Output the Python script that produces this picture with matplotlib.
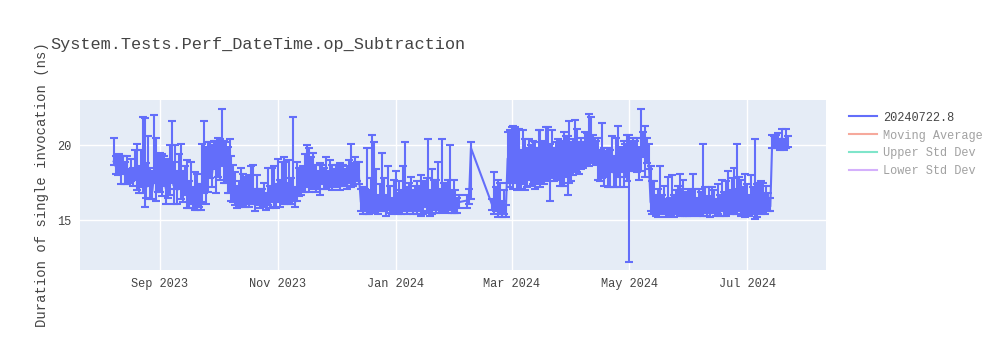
import pandas as pd
import matplotlib
matplotlib.use("Agg")
import matplotlib.pyplot as plt
import matplotlib.dates as mdates
from matplotlib.lines import Line2D

# one benchmark run per day: (mean, +err, -err) in ns
aug23 = [(18.9, 1.6, 0.2), (18.6, 0.7, 0.5), (18.3, 0.9, 0.3), (18.8, 0.6, 0.6),
         (18.2, 1.1, 0.8), (18.5, 0.8, 0.4), (17.9, 1.0, 0.5), (18.4, 0.9, 1.0),
         (17.8, 0.6, 0.3), (18.1, 1.0, 0.5), (17.7, 0.8, 0.4), (18.4, 1.3, 0.7),
         (17.9, 2.2, 0.9), (17.4, 1.2, 0.6), (18.2, 1.5, 1.0), (17.6, 4.3, 0.8),
         (18.0, 3.8, 2.1), (17.2, 1.6, 0.7), (18.5, 2.1, 1.2), (17.5, 1.0, 1.1),
         (16.9, 1.4, 0.5), (18.1, 3.9, 0.6), (17.3, 3.2, 1.0), (17.8, 1.6, 0.9)]
sep23 = [(18.3, 1.2, 1.4), (17.4, 2.0, 0.8), (17.9, 1.4, 0.6), (17.1, 1.9, 1.0),
         (18.0, 1.1, 1.5), (17.6, 2.4, 0.9), (18.2, 3.4, 0.7), (17.3, 1.6, 1.2),
         (17.9, 2.1, 0.8), (17.0, 1.3, 0.9), (18.4, 1.0, 1.3), (17.5, 2.6, 1.1),
         (16.8, 1.5, 0.6), (17.7, 0.9, 1.0), (17.2, 1.8, 1.4), (16.5, 1.1, 0.7),
         (17.0, 1.9, 0.9), (16.3, 0.9, 0.5), (16.8, 1.4, 1.1), (16.1, 2.0, 0.4),
         (16.6, 0.8, 0.7), (16.2, 1.2, 0.5), (17.8, 2.3, 1.6), (18.9, 2.7, 2.1),
         (16.9, 3.0, 0.8), (18.6, 1.6, 1.7), (19.2, 1.0, 1.4), (18.1, 1.9, 0.9),
         (19.5, 0.8, 1.1), (18.8, 1.5, 2.0)]
oct23 = [(19.4, 1.1, 1.5), (18.6, 1.8, 0.9), (19.8, 2.6, 1.2), (19.1, 1.2, 1.6),
         (18.2, 2.0, 0.7), (19.0, 0.9, 2.2), (17.6, 2.8, 0.8), (16.9, 2.4, 0.6),
         (17.4, 1.3, 1.2), (16.6, 1.6, 0.6), (16.2, 1.1, 0.4), (16.8, 0.8, 0.9),
         (16.4, 2.1, 0.5), (17.2, 0.9, 1.2), (16.5, 1.4, 0.6), (16.9, 1.0, 0.8),
         (16.3, 1.7, 0.4), (17.1, 1.5, 1.0), (16.6, 2.1, 0.5), (16.2, 0.9, 0.6),
         (16.8, 1.2, 0.7), (16.4, 0.7, 0.4), (16.1, 1.0, 0.3), (16.5, 0.6, 0.5),
         (16.3, 1.2, 0.4), (16.0, 0.8, 0.3), (16.6, 1.9, 0.6), (16.2, 1.1, 0.4),
         (16.9, 1.6, 0.7), (16.4, 2.2, 0.5), (16.1, 1.3, 0.3)]
nov23 = [(16.8, 2.3, 0.6), (16.3, 1.4, 0.4), (17.2, 1.7, 1.0), (16.6, 2.6, 0.5),
         (17.0, 1.9, 0.8), (16.4, 1.1, 0.3), (16.9, 2.1, 0.7), (16.5, 1.3, 0.4),
         (16.8, 5.1, 0.5), (16.2, 1.0, 0.3), (17.1, 1.8, 0.8), (17.6, 0.9, 1.0),
         (17.3, 1.2, 0.6), (17.8, 0.8, 0.9), (17.4, 2.0, 0.5), (17.9, 2.1, 0.7),
         (17.5, 2.3, 0.6), (18.0, 1.2, 0.8), (17.6, 1.9, 0.5), (17.8, 0.9, 0.7),
         (17.3, 1.4, 0.4), (17.7, 0.6, 0.6), (17.5, 1.3, 0.8), (17.9, 0.8, 0.5),
         (17.4, 1.1, 0.3), (17.7, 1.5, 0.6), (17.6, 0.7, 0.4), (18.0, 1.0, 0.7),
         (17.5, 1.2, 0.5), (17.8, 0.6, 0.6)]
dec23 = [(17.6, 1.1, 0.4), (17.9, 0.8, 0.6), (17.5, 1.3, 0.5), (18.0, 0.7, 0.7),
         (17.7, 1.0, 0.4), (17.8, 0.6, 0.5), (17.4, 1.2, 0.3), (18.1, 0.9, 0.6),
         (17.7, 2.4, 0.5), (18.0, 0.8, 0.7), (17.8, 1.4, 0.4), (18.2, 0.7, 0.6),
         (17.9, 1.0, 0.5), (16.2, 0.9, 0.6), (15.9, 1.3, 0.5), (16.4, 0.7, 0.8),
         (16.0, 3.8, 0.6), (15.8, 1.2, 0.4), (16.3, 1.5, 0.7), (16.7, 4.0, 1.2),
         (16.1, 4.1, 0.6), (16.5, 1.9, 0.9), (15.9, 0.8, 0.5), (16.3, 1.1, 0.7),
         (16.0, 3.5, 0.4), (16.4, 1.4, 0.8), (15.8, 0.9, 0.5), (16.6, 2.0, 0.9),
         (16.1, 1.2, 0.6), (15.7, 0.8, 0.3), (16.2, 1.5, 0.7)]
jan24 = [(16.5, 1.8, 1.0), (15.9, 0.9, 0.5), (16.3, 1.3, 0.8), (16.0, 1.0, 0.6),
         (16.4, 2.2, 0.7), (16.1, 4.1, 0.5), (15.8, 1.4, 0.4), (16.6, 0.9, 1.0),
         (16.2, 1.7, 0.6), (15.9, 1.1, 0.5), (16.5, 0.8, 0.9), (16.0, 1.6, 0.6),
         (16.3, 1.0, 0.7), (15.7, 2.3, 0.4), (16.2, 1.4, 0.8), (16.6, 0.9, 0.7),
         (16.0, 1.8, 0.5), (16.4, 4.0, 0.8), (15.8, 1.2, 0.5), (16.3, 2.1, 0.9),
         (16.7, 1.0, 1.0), (16.1, 1.6, 0.6), (16.5, 2.4, 0.8), (16.0, 1.1, 0.5),
         (16.8, 3.6, 1.2), (16.2, 1.3, 0.6), (16.6, 0.8, 0.9), (16.0, 1.7, 0.5),
         (16.4, 3.6, 0.7), (15.9, 1.0, 0.4), (16.3, 1.4, 0.8)]
feb24_a = [(16.1, 0.9, 0.6), (15.8, 0.7, 0.3), (16.2, 0.5, 0.4)]
feb24_b = [(16.3, 0.4, 0.5), (16.5, 0.6, 0.4), (19.8, 0.4, 3.4)]
feb24_c = [(16.0, 0.4, 0.3), (15.7, 2.5, 0.3), (16.2, 1.0, 0.6), (15.6, 2.1, 0.4),
           (15.9, 1.6, 0.5), (15.5, 0.8, 0.3), (15.8, 1.2, 0.4), (15.4, 0.6, 0.2),
           (19.1, 1.8, 1.6), (18.4, 2.6, 1.2)]
mar24 = [(19.3, 1.9, 1.8), (18.6, 2.7, 1.5), (19.8, 1.4, 2.3), (18.2, 2.9, 1.2),
         (19.0, 2.1, 1.9), (18.5, 1.2, 1.4), (19.4, 1.6, 2.0), (18.1, 2.3, 1.1),
         (18.8, 1.0, 1.6), (19.5, 0.9, 1.8), (18.3, 1.7, 1.0), (18.9, 1.4, 1.5),
         (18.0, 2.2, 0.9), (18.7, 1.1, 1.3), (19.2, 1.8, 1.7), (18.4, 2.6, 1.2),
         (19.0, 1.3, 1.4), (18.2, 2.0, 0.8), (18.8, 2.4, 1.1), (19.3, 1.9, 1.7),
         (18.5, 1.6, 2.2), (19.1, 1.9, 1.3), (18.6, 1.2, 1.0), (19.4, 0.8, 1.6),
         (18.9, 1.5, 1.2), (18.4, 1.9, 1.1), (19.2, 1.0, 1.9), (18.7, 2.2, 1.4),
         (19.5, 1.1, 1.6), (18.9, 1.7, 2.2), (19.3, 2.3, 1.8)]
apr24 = [(19.2, 1.0, 1.6), (18.9, 1.5, 0.9), (19.4, 2.3, 1.1), (19.0, 2.1, 0.8),
         (19.3, 0.9, 1.2), (19.1, 1.4, 0.7), (19.5, 0.7, 1.0), (19.2, 1.7, 0.6),
         (19.6, 1.2, 0.9), (19.3, 2.8, 0.7), (19.8, 2.1, 1.0), (19.4, 1.3, 0.6),
         (19.7, 0.8, 0.8), (19.2, 1.1, 0.5), (18.6, 1.9, 0.9), (18.3, 1.4, 0.7),
         (18.9, 2.6, 1.1), (18.2, 1.6, 0.9), (18.6, 1.0, 0.7), (18.0, 1.8, 0.8),
         (18.4, 1.3, 1.2), (18.8, 1.8, 0.6), (18.1, 1.2, 0.9), (18.5, 2.0, 1.3),
         (18.7, 2.6, 0.8), (18.3, 1.5, 1.1), (18.9, 1.0, 0.7), (18.4, 1.9, 1.2),
         (18.8, 1.3, 0.9), (18.2, 2.5, 0.6)]
may24 = [(18.6, 2.1, 6.4), (19.2, 1.1, 0.8), (18.9, 1.6, 0.6), (19.5, 0.8, 1.2),
         (19.1, 1.4, 0.9), (18.7, 1.2, 1.0), (19.4, 3.0, 1.1), (19.9, 1.0, 0.7),
         (19.2, 2.1, 1.3), (19.6, 0.9, 0.8), (19.0, 1.1, 0.6), (16.2, 2.4, 0.6),
         (15.8, 1.8, 0.4), (16.4, 1.2, 0.9), (15.9, 0.8, 0.6), (15.6, 1.5, 0.4),
         (16.1, 2.5, 0.7), (15.7, 1.0, 0.3), (16.0, 1.3, 0.6), (15.5, 0.9, 0.3),
         (16.3, 1.6, 0.8), (15.8, 0.7, 0.5), (16.0, 2.0, 0.6), (15.6, 1.1, 0.4),
         (16.2, 0.8, 0.7), (15.9, 1.4, 0.5), (15.7, 2.4, 0.4), (16.1, 1.0, 0.6),
         (15.8, 1.9, 0.5), (16.0, 0.9, 0.7), (15.6, 1.3, 0.3)]
jun24 = [(15.9, 1.2, 0.6), (16.2, 0.8, 0.8), (15.7, 2.4, 0.4), (16.0, 1.1, 0.6),
         (15.8, 0.7, 0.5), (16.1, 1.0, 0.7), (15.6, 1.3, 0.3), (15.9, 4.2, 0.6),
         (16.2, 1.0, 0.7), (15.7, 0.9, 0.4), (16.0, 1.2, 0.5), (15.8, 0.7, 0.6),
         (16.3, 0.9, 0.8), (15.9, 1.1, 0.4), (15.6, 0.8, 0.3), (16.1, 1.3, 0.7),
         (15.8, 0.9, 0.5), (16.2, 1.5, 0.6), (15.7, 1.2, 0.4), (16.0, 1.6, 0.7),
         (16.4, 1.9, 0.9), (15.9, 1.1, 0.5), (16.3, 1.5, 0.8), (16.0, 2.5, 0.6),
         (15.8, 1.3, 0.4), (16.1, 4.0, 0.7), (16.5, 1.4, 0.9), (15.9, 1.8, 0.6),
         (16.2, 1.0, 0.8), (15.7, 2.4, 0.5)]
jul24 = [(16.0, 1.4, 0.6), (15.7, 1.0, 0.4), (16.2, 1.8, 0.8), (15.9, 1.3, 0.5),
         (16.1, 4.3, 1.0), (15.8, 1.6, 0.6), (16.3, 1.2, 0.8), (15.9, 1.7, 0.5),
         (16.1, 1.4, 0.6), (15.8, 0.9, 0.4), (16.2, 1.1, 0.5), (16.0, 0.8, 0.4),
         (15.9, 0.6, 0.3), (20.3, 0.4, 0.5), (20.1, 0.5, 0.3), (20.4, 0.3, 0.6),
         (20.2, 0.6, 0.4), (20.0, 0.4, 0.3), (20.5, 0.6, 0.7), (20.1, 0.3, 0.4),
         (20.3, 0.8, 0.5), (20.2, 0.4, 0.3)]

segments = [("2023-08-08", aug23), ("2023-09-01", sep23), ("2023-10-01", oct23),
            ("2023-11-01", nov23), ("2023-12-01", dec23), ("2024-01-01", jan24),
            ("2024-02-01", feb24_a), ("2024-02-07", feb24_b), ("2024-02-20", feb24_c),
            ("2024-03-01", mar24), ("2024-04-01", apr24), ("2024-05-01", may24),
            ("2024-06-01", jun24), ("2024-07-01", jul24)]

run_name = "20240722.8"
title = "System.Tests.Perf_DateTime.op_Subtraction"
ylabel = "Duration of single invocation (ns)"
hidden_series = [("Moving Average", "#EF553B"), ("Upper Std Dev", "#00CC96"),
                 ("Lower Std Dev", "#AB63FA")]
xticks = ["2023-09-01", "2023-11-01", "2024-01-01", "2024-03-01", "2024-05-01", "2024-07-01"]
yticks = [15, 20]

dates, mean, err_hi, err_lo = [], [], [], []
for start, rows in segments:
    days = pd.date_range(start, periods=len(rows), freq="D")
    for d, (m, hi, lo) in zip(days, rows):
        dates.append(d)
        mean.append(m)
        err_hi.append(hi)
        err_lo.append(lo)

plt.rcParams["font.family"] = ["Liberation Mono", "DejaVu Sans Mono"]
txt = "#444444"

fig = plt.figure(figsize=(10, 3.5), dpi=100)
ax = fig.add_axes([0.08, 1 - 270 / 350, 0.746, 170 / 350])
ax.set_facecolor("#E5ECF6")
for s in ax.spines.values():
    s.set_visible(False)
ax.grid(True, color="white", linewidth=1)
ax.set_axisbelow(True)

blue = "#636EFA"
ax.errorbar(dates, mean, yerr=[err_lo, err_hi], color=blue, linewidth=1.5,
            elinewidth=1.5, capsize=3.0, capthick=1.5, zorder=3)

ax.set_xlim(pd.Timestamp("2023-07-21 14:00"), pd.Timestamp("2024-08-10 20:00"))
ax.set_ylim(11.667, 23.0)
ax.set_xticks(pd.to_datetime(xticks))
ax.xaxis.set_major_formatter(mdates.DateFormatter("%b %Y"))
ax.set_yticks(yticks)
ax.tick_params(length=0, labelsize=8.6, colors=txt, pad=6)

fig.text(0.05, 1 - 45 / 350, title, fontsize=12.2, color=txt, va="center", ha="left")
fig.text(0.042, 1 - 185 / 350, ylabel, fontsize=10, color=txt, rotation=90,
         va="center", ha="center")

# legend: the run itself, then the traces that start hidden
handles = [Line2D([], [], color=blue, linewidth=1.5)]
labels = [run_name]
for name, col in hidden_series:
    handles.append(Line2D([], [], color=col, linewidth=1.5, alpha=0.5))
    labels.append(name)
leg = fig.legend(handles, labels, loc="upper left", bbox_to_anchor=(0.838, 0.712),
                 frameon=False, fontsize=8.6, handlelength=2.4, labelspacing=0.5,
                 handletextpad=0.5)
for i, t in enumerate(leg.get_texts()):
    t.set_color(txt)
    if i > 0:
        t.set_alpha(0.5)

fig.savefig("out.png", dpi=100)
